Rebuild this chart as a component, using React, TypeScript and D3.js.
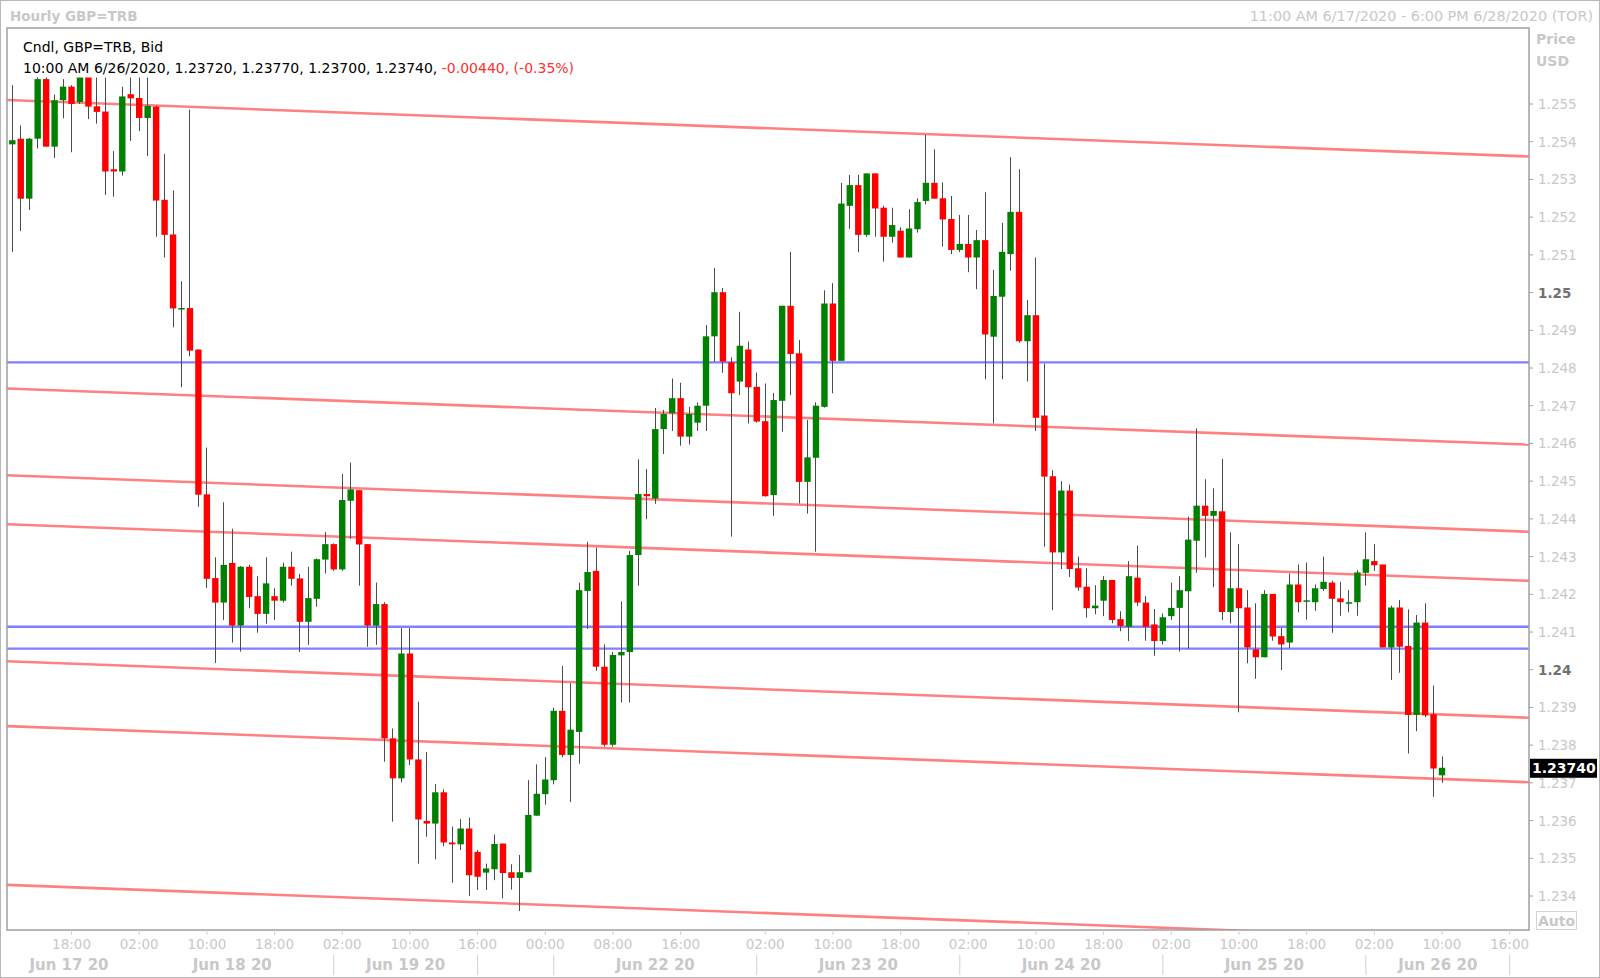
import React from "react";
import * as d3 from "d3";

// ---- data (hourly candles, index 0 = 11:00 AM 6/17/2020) ----
const opens = [
  1.25393, 1.25408, 1.25249, 1.25408, 1.25566, 1.25387, 1.25510, 1.25546, 1.25505, 1.25590,
  1.25494, 1.25480, 1.25327, 1.25321, 1.25526, 1.25516, 1.25463, 1.25493, 1.25246, 1.25154,
  1.24955, 1.24959, 1.24849, 1.24465, 1.24243, 1.24178, 1.24283, 1.24117, 1.24273, 1.24195,
  1.24148, 1.24195, 1.24183, 1.24273, 1.24242, 1.24127, 1.24188, 1.24292, 1.24333, 1.24266,
  1.24448, 1.24476, 1.24333, 1.24117, 1.24174, 1.23818, 1.23712, 1.24043, 1.23762, 1.23599,
  1.23592, 1.23675, 1.23542, 1.23537, 1.23579, 1.23517, 1.23462, 1.23471, 1.23539, 1.23463,
  1.23448, 1.23463, 1.23613, 1.23670, 1.23707, 1.23891, 1.23774, 1.23835, 1.24209, 1.24262,
  1.24008, 1.23801, 1.24038, 1.24047, 1.24304, 1.24466, 1.24454, 1.24638, 1.24680, 1.24720,
  1.24618, 1.24655, 1.24700, 1.24884, 1.25001, 1.24815, 1.24764, 1.24849, 1.24750, 1.24659,
  1.24463, 1.24713, 1.24965, 1.24839, 1.24498, 1.24562, 1.24697, 1.24971, 1.24819, 1.25230,
  1.25285, 1.25153, 1.25316, 1.25225, 1.25148, 1.25164, 1.25093, 1.25168, 1.25243, 1.25291,
  1.25250, 1.25195, 1.25113, 1.25129, 1.25093, 1.25139, 1.24883, 1.24989, 1.25102, 1.25214,
  1.24871, 1.24940, 1.24674, 1.24513, 1.24311, 1.24475, 1.24269, 1.24220, 1.24163, 1.24183,
  1.24238, 1.24134, 1.24114, 1.24244, 1.24178, 1.24120, 1.24076, 1.24142, 1.24164, 1.24208,
  1.24342, 1.24435, 1.24408, 1.24420, 1.24153, 1.24216, 1.24165, 1.24054, 1.24033, 1.24201,
  1.24089, 1.24072, 1.24226, 1.24184, 1.24179, 1.24214, 1.24231, 1.24189, 1.24179, 1.24179,
  1.24257, 1.24288, 1.24279, 1.24059, 1.24165, 1.24063, 1.23880, 1.24125, 1.23882, 1.23720,
];
const highs = [
  1.25550, 1.25443, 1.25410, 1.25600, 1.25600, 1.25525, 1.25566, 1.25550, 1.25600, 1.25600,
  1.25600, 1.25610, 1.25375, 1.25546, 1.25600, 1.25590, 1.25590, 1.25496, 1.25368, 1.25271,
  1.25030, 1.25485, 1.24849, 1.24589, 1.24298, 1.24444, 1.24374, 1.24275, 1.24278, 1.24248,
  1.24298, 1.24216, 1.24284, 1.24313, 1.24254, 1.24273, 1.24295, 1.24365, 1.24335, 1.24519,
  1.24549, 1.24476, 1.24333, 1.24231, 1.24179, 1.23844, 1.24110, 1.24110, 1.23915, 1.23782,
  1.23697, 1.23683, 1.23584, 1.23604, 1.23608, 1.23522, 1.23486, 1.23563, 1.23539, 1.23484,
  1.23509, 1.23707, 1.23749, 1.23768, 1.23899, 1.24010, 1.23964, 1.24231, 1.24339, 1.24324,
  1.24067, 1.24047, 1.24181, 1.24315, 1.24558, 1.24532, 1.24694, 1.24689, 1.24772, 1.24761,
  1.24697, 1.24708, 1.24914, 1.25065, 1.25012, 1.24828, 1.24949, 1.24870, 1.24788, 1.24759,
  1.24734, 1.24965, 1.25108, 1.24874, 1.24662, 1.24709, 1.25006, 1.25025, 1.25291, 1.25312,
  1.25312, 1.25316, 1.25316, 1.25230, 1.25225, 1.25173, 1.25221, 1.25250, 1.25418, 1.25380,
  1.25292, 1.25256, 1.25206, 1.25206, 1.25166, 1.25266, 1.25060, 1.25185, 1.25359, 1.25327,
  1.24980, 1.25093, 1.24812, 1.24529, 1.24500, 1.24491, 1.24300, 1.24269, 1.24224, 1.24248,
  1.24238, 1.24155, 1.24288, 1.24329, 1.24195, 1.24161, 1.24149, 1.24231, 1.24248, 1.24406,
  1.24640, 1.24505, 1.24481, 1.24559, 1.24364, 1.24333, 1.24211, 1.24176, 1.24211, 1.24201,
  1.24111, 1.24255, 1.24279, 1.24284, 1.24226, 1.24300, 1.24236, 1.24233, 1.24211, 1.24264,
  1.24364, 1.24333, 1.24279, 1.24170, 1.24185, 1.24160, 1.24145, 1.24176, 1.23958, 1.23770,
];
const lows = [
  1.25108, 1.25163, 1.25219, 1.25382, 1.25387, 1.25357, 1.25462, 1.25372, 1.25500, 1.25460,
  1.25448, 1.25259, 1.25254, 1.25310, 1.25402, 1.25428, 1.25362, 1.25148, 1.25093, 1.24908,
  1.24749, 1.24831, 1.24432, 1.24217, 1.24018, 1.24132, 1.24072, 1.24048, 1.24163, 1.24098,
  1.24122, 1.24132, 1.24178, 1.24223, 1.24047, 1.24066, 1.24167, 1.24255, 1.24262, 1.24262,
  1.24347, 1.24223, 1.24061, 1.24066, 1.23756, 1.23597, 1.23701, 1.23747, 1.23486, 1.23557,
  1.23497, 1.23532, 1.23435, 1.23522, 1.23400, 1.23416, 1.23416, 1.23442, 1.23394, 1.23417,
  1.23360, 1.23463, 1.23613, 1.23642, 1.23696, 1.23768, 1.23649, 1.23751, 1.24108, 1.23997,
  1.23796, 1.23796, 1.23913, 1.23913, 1.24223, 1.24399, 1.24440, 1.24572, 1.24633, 1.24594,
  1.24597, 1.24633, 1.24633, 1.24817, 1.24787, 1.24353, 1.24728, 1.24653, 1.24655, 1.24459,
  1.24408, 1.24631, 1.24728, 1.24441, 1.24414, 1.24313, 1.24695, 1.24733, 1.24819, 1.25169,
  1.25107, 1.25148, 1.25148, 1.25082, 1.25132, 1.25093, 1.25093, 1.25159, 1.25234, 1.25249,
  1.25122, 1.25102, 1.25107, 1.25054, 1.25009, 1.24770, 1.24653, 1.24770, 1.25058, 1.24867,
  1.24764, 1.24633, 1.24326, 1.24158, 1.24267, 1.24246, 1.24209, 1.24138, 1.24147, 1.24142,
  1.24123, 1.24102, 1.24076, 1.24169, 1.24077, 1.24037, 1.24067, 1.24132, 1.24048, 1.24056,
  1.24257, 1.24298, 1.24219, 1.24132, 1.24123, 1.23887, 1.24017, 1.23976, 1.24033, 1.24077,
  1.23999, 1.24057, 1.24152, 1.24133, 1.24156, 1.24209, 1.24098, 1.24143, 1.24152, 1.24143,
  1.24223, 1.24262, 1.24059, 1.23973, 1.23992, 1.23778, 1.23837, 1.23874, 1.23663, 1.23700,
];
const closes = [
  1.25404, 1.25249, 1.25408, 1.25566, 1.25387, 1.25510, 1.25546, 1.25500, 1.25590, 1.25493,
  1.25479, 1.25321, 1.25321, 1.25520, 1.25515, 1.25463, 1.25495, 1.25244, 1.25153, 1.24958,
  1.24959, 1.24846, 1.24464, 1.24241, 1.24178, 1.24278, 1.24117, 1.24273, 1.24193, 1.24148,
  1.24229, 1.24183, 1.24273, 1.24241, 1.24127, 1.24190, 1.24293, 1.24333, 1.24266, 1.24450,
  1.24478, 1.24332, 1.24117, 1.24174, 1.23818, 1.23712, 1.24043, 1.23762, 1.23603, 1.23592,
  1.23675, 1.23542, 1.23537, 1.23579, 1.23455, 1.23451, 1.23473, 1.23538, 1.23461, 1.23448,
  1.23463, 1.23615, 1.23671, 1.23709, 1.23891, 1.23774, 1.23841, 1.24211, 1.24259, 1.24008,
  1.23801, 1.24039, 1.24047, 1.24304, 1.24466, 1.24460, 1.24638, 1.24678, 1.24720, 1.24618,
  1.24678, 1.24700, 1.24884, 1.25001, 1.24817, 1.24733, 1.24859, 1.24749, 1.24658, 1.24460,
  1.24715, 1.24965, 1.24837, 1.24498, 1.24563, 1.24700, 1.24971, 1.24819, 1.25236, 1.25285,
  1.25153, 1.25316, 1.25223, 1.25148, 1.25179, 1.25093, 1.25170, 1.25240, 1.25291, 1.25249,
  1.25194, 1.25113, 1.25129, 1.25093, 1.25139, 1.24889, 1.24991, 1.25108, 1.25214, 1.24871,
  1.24940, 1.24668, 1.24512, 1.24311, 1.24475, 1.24267, 1.24218, 1.24163, 1.24170, 1.24238,
  1.24132, 1.24116, 1.24248, 1.24178, 1.24114, 1.24076, 1.24139, 1.24164, 1.24211, 1.24345,
  1.24435, 1.24408, 1.24421, 1.24153, 1.24216, 1.24163, 1.24059, 1.24033, 1.24201, 1.24088,
  1.24067, 1.24226, 1.24179, 1.24184, 1.24216, 1.24233, 1.24188, 1.24179, 1.24179, 1.24258,
  1.24293, 1.24277, 1.24059, 1.24165, 1.24061, 1.23880, 1.24125, 1.23879, 1.23738, 1.23740,
];

const timeLabels = [
  "18:00", "02:00", "10:00", "18:00", "02:00", "10:00", "16:00", "00:00", "08:00", "16:00", "02:00",
  "10:00", "18:00", "02:00", "10:00", "18:00", "02:00", "10:00", "18:00", "02:00", "10:00", "16:00",
];
const timeLabelSlots = [7, 15, 23, 31, 39, 47, 55, 63, 71, 79, 89, 97, 105, 113, 121, 129, 137, 145, 153, 161, 169, 177];
const dateLabels = ["Jun 17 20", "Jun 18 20", "Jun 19 20", "Jun 22 20", "Jun 23 20", "Jun 24 20", "Jun 25 20", "Jun 26 20"];
const dateLabelSlots = [6.7, 26, 46.5, 76, 100, 124, 148, 168.5];
const daySeparatorSlots = [38, 55, 64, 88, 112, 136, 160, 177];

const priceTicks = [
  1.234, 1.235, 1.236, 1.237, 1.238, 1.239, 1.24, 1.241, 1.242, 1.243, 1.244,
  1.245, 1.246, 1.247, 1.248, 1.249, 1.25, 1.251, 1.252, 1.253, 1.254, 1.255,
];
const boldTicks = [1.24, 1.25];

// parallel down-sloping channel lines: price at slot 0 and at slot 179
const channelStart = [1.2551, 1.24745, 1.24515, 1.24385, 1.24022, 1.2385, 1.23429];
const channelEnd = [1.25361, 1.24597, 1.24366, 1.24236, 1.23873, 1.23702, 1.2328];
const channelSlots = [0, 179];
// horizontal support / resistance levels
const levels = [1.24815, 1.24114, 1.24056];

const lastPrice = 1.2374;

const FONT = "'DejaVu Sans', Verdana, sans-serif";
const LIGHT = "#c8c8c8";

export default function App() {
  const W = 1600;
  const H = 978;
  const plot = { left: 7, top: 28, right: 1529, bottom: 930 };

  const x = d3.scaleLinear().domain([0, 169]).range([12.3, 1442]);
  const y = d3.scaleLinear().domain([1.234, 1.255]).range([896, 104]);

  const lineGen = d3
    .line<[number, number]>()
    .x((d) => x(d[0]))
    .y((d) => y(d[1]));

  const extend = (s: number, e: number): [number, number][] => {
    const slope = (e - s) / (channelSlots[1] - channelSlots[0]);
    const a = -5;
    const b = 185;
    return [
      [a, s + slope * (a - channelSlots[0])],
      [b, s + slope * (b - channelSlots[0])],
    ];
  };

  const fmt = (v: number) => d3.format(".3f")(v).replace(/0$/, "");
  const bodyW = 6.4;

  return (
    <svg
      width={W}
      height={H}
      style={{ position: "absolute", left: 0, top: 0, background: "#fff" }}
      fontFamily={FONT}
    >
      <defs>
        <clipPath id="plotClip">
          <rect x={plot.left} y={plot.top} width={plot.right - plot.left} height={plot.bottom - plot.top} />
        </clipPath>
      </defs>
      <rect x={0} y={0} width={W} height={H} fill="#fff" />
      <rect x={0.5} y={0.5} width={W - 1} height={H - 1} fill="none" stroke="#b8b8b8" />

      {/* header */}
      <text x={10} y={21} fontSize={13.5} fontWeight="bold" fill={LIGHT}>
        Hourly GBP=TRB
      </text>
      <text x={1593} y={21} fontSize={14.4} fill={LIGHT} textAnchor="end">
        11:00 AM 6/17/2020 - 6:00 PM 6/28/2020 (TOR)
      </text>
      <text x={1536} y={44} fontSize={14} fontWeight="bold" fill={LIGHT}>
        Price
      </text>
      <text x={1536} y={65.5} fontSize={14} fontWeight="bold" fill={LIGHT}>
        USD
      </text>

      <g clipPath="url(#plotClip)">
        {levels.map((lv, k) => (
          <line
            key={"lv" + k}
            x1={plot.left}
            x2={plot.right}
            y1={y(lv)}
            y2={y(lv)}
            stroke="#7f7fff"
            strokeWidth={2.4}
          />
        ))}
        {channelStart.map((s, k) => (
          <path key={"ch" + k} d={lineGen(extend(s, channelEnd[k])) || ""} stroke="#ff8080" strokeWidth={2.6} fill="none" />
        ))}
        {opens.map((o, i) => {
          const c = closes[i];
          const up = c >= o;
          const cx = x(i);
          const wx = Math.floor(cx) + 0.5;
          const yTop = y(Math.max(o, c));
          const yBot = y(Math.min(o, c));
          return (
            <g key={"c" + i}>
              <line x1={wx} x2={wx} y1={y(highs[i])} y2={y(lows[i])} stroke="#4a4a4a" strokeWidth={1} />
              <rect
                x={cx - bodyW / 2}
                y={yTop}
                width={bodyW}
                height={Math.max(1.5, yBot - yTop)}
                fill={up ? "#008000" : "#ff0000"}
              />
            </g>
          );
        })}
        {/* legend panel */}
        <rect x={plot.left + 1} y={plot.top + 1} width={600} height={48.5} fill="#fff" />
      </g>

      <text x={23} y={52} fontSize={14} fill="#000">
        Cndl, GBP=TRB, Bid
      </text>
      <text x={23} y={73} fontSize={14} fill="#000">
        10:00 AM 6/26/2020, 1.23720, 1.23770, 1.23700, 1.23740,{" "}
        <tspan fill="#ff3030">-0.00440, (-0.35%)</tspan>
      </text>

      {/* plot frame */}
      <rect
        x={plot.left}
        y={plot.top}
        width={plot.right - plot.left}
        height={plot.bottom - plot.top}
        fill="none"
        stroke="#a0a0a0"
        strokeWidth={1.5}
      />

      {/* y axis */}
      {priceTicks.map((t) => {
        const bold = boldTicks.some((b) => Math.abs(b - t) < 1e-9);
        return (
          <g key={"yt" + t}>
            <line x1={plot.right} x2={plot.right + 4} y1={y(t)} y2={y(t)} stroke="#a0a0a0" />
            <text
              x={1538}
              y={y(t) + 5}
              fontSize={13.5}
              fill={bold ? "#707070" : LIGHT}
              fontWeight={bold ? "bold" : "normal"}
            >
              {fmt(t)}
            </text>
          </g>
        );
      })}

      {/* last price tag */}
      <rect x={1530} y={y(lastPrice) - 9} width={67} height={19} fill="#000" />
      <text x={1532} y={y(lastPrice) + 5.5} fontSize={14} fontWeight="bold" fill="#fff">
        {d3.format(".5f")(lastPrice)}
      </text>

      {/* Auto button */}
      <rect x={1536.5} y={911.5} width={40} height={18} fill="#fff" stroke="#d4d4d4" />
      <text x={1556.5} y={926} fontSize={14} fontWeight="bold" fill={LIGHT} textAnchor="middle">
        Auto
      </text>

      {/* x axis */}
      {timeLabelSlots.map((s, k) => (
        <g key={"xt" + k}>
          <line x1={x(s)} x2={x(s)} y1={plot.bottom} y2={plot.bottom + 5} stroke="#d0d0d0" />
          <text x={x(s)} y={949} fontSize={13.5} fill={LIGHT} textAnchor="middle">
            {timeLabels[k]}
          </text>
        </g>
      ))}
      {daySeparatorSlots.map((s, k) => (
        <line key={"ds" + k} x1={x(s)} x2={x(s)} y1={955} y2={975} stroke="#d0d0d0" />
      ))}
      {dateLabelSlots.map((s, k) => (
        <text key={"dl" + k} x={x(s)} y={970} fontSize={15} fontWeight="bold" fill={LIGHT} textAnchor="middle">
          {dateLabels[k]}
        </text>
      ))}
    </svg>
  );
}
